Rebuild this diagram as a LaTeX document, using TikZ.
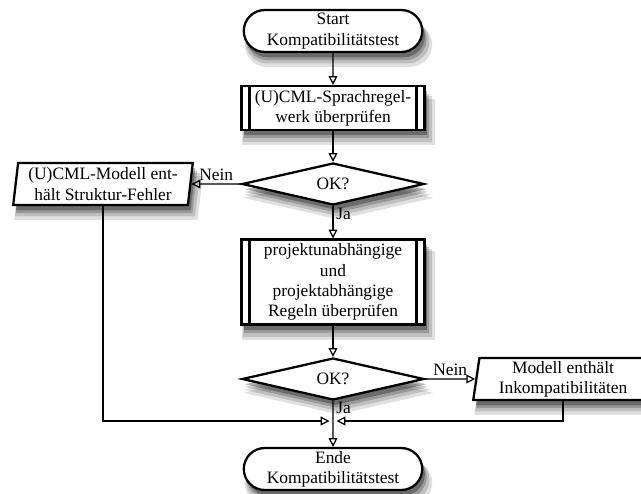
\documentclass[tikz,border=0pt]{standalone}
\usepackage{fontspec}
\setmainfont{Liberation Serif}
\usetikzlibrary{arrows.meta,shapes.geometric,shapes.misc,shadows}

\tikzset{
  soft shadow/.style={
    general shadow={fill=black, opacity=0.12, shadow xshift=3pt, shadow yshift=-7.5pt, shadow scale=1.05},
    general shadow={fill=black, opacity=0.15, shadow xshift=2.5pt, shadow yshift=-6pt, shadow scale=1.03},
    general shadow={fill=black, opacity=0.2, shadow xshift=2pt, shadow yshift=-4.5pt, shadow scale=1.01},
    general shadow={fill=black, opacity=0.3, shadow xshift=1.5pt, shadow yshift=-3pt, shadow scale=1.0}},
  box/.style={draw, line width=1.3pt, fill=white, align=center, inner sep=1pt,
    font=\fontsize{9.9}{11.5}\selectfont, soft shadow},
  terminal/.style={box, rounded rectangle, minimum width=3.64cm, minimum height=0.84cm},
  process/.style={box, rectangle, minimum width=3.66cm,
    path picture={
      \draw ([xshift=4.5pt]path picture bounding box.north west) -- ([xshift=4.5pt]path picture bounding box.south west);
      \draw ([xshift=-4.5pt]path picture bounding box.north east) -- ([xshift=-4.5pt]path picture bounding box.south east);
    }},
  decision/.style={box, diamond, aspect=4.3, inner sep=0pt, minimum width=3.64cm, minimum height=0.84cm},
  result/.style={box, trapezium, trapezium left angle=83, trapezium right angle=97,
    trapezium stretches=true, minimum width=3.62cm, minimum height=0.84cm},
  flow/.style={line width=0.7pt, -{Triangle[open, length=5pt, width=5pt]}},
  lbl/.style={font=\fontsize{9.9}{11.5}\selectfont, inner sep=1.5pt}
}

\begin{document}
\begin{tikzpicture}[x=0.02cm, y=-0.02cm]
\useasboundingbox (0, 0) rectangle (641, 493);
\newcommand{\axis}{333}
\node[terminal] (start) at (\axis, 31) {Start\\Kompatibilitätstest};
\node[process, minimum height=0.88cm] (check1) at (\axis, 108) {(U)CML-Sprachregel-\\werk überprüfen};
\node[decision] (dec1) at (\axis, 184) {OK?};
\node[result] (err1) at (103, 184) {(U)CML-Modell ent-\\hält Struktur-Fehler};
\node[process, minimum height=1.7cm] (check2) at (\axis, 282) {projektunabhängige\\und\\projektabhängige\\Regeln überprüfen};
\node[decision] (dec2) at (\axis, 379) {OK?};
\node[result] (err2) at (563, 379) {Modell enthält\\Inkompatibilitäten};
\node[terminal] (stop) at (\axis, 469) {Ende\\Kompatibilitätstest};
\coordinate (join) at (\axis, 421);

\draw[flow] (start) -- (check1);
\draw[flow] (check1) -- (dec1);
\draw[flow] (dec1) -- node[lbl, right, pos=0.25] {Ja} (check2);
\draw[flow] (dec1) -- node[lbl, above] {Nein} (err1);
\draw[flow] (check2) -- (dec2);
\draw[flow] (dec2) -- node[lbl, above] {Nein} (err2);
\draw[flow] (dec2) -- node[lbl, right, pos=0.14] {Ja} (stop);
\draw[flow, shorten >=2pt] (err1) |- (join);
\draw[flow, shorten >=2pt] (err2) |- (join);
\end{tikzpicture}
\end{document}
